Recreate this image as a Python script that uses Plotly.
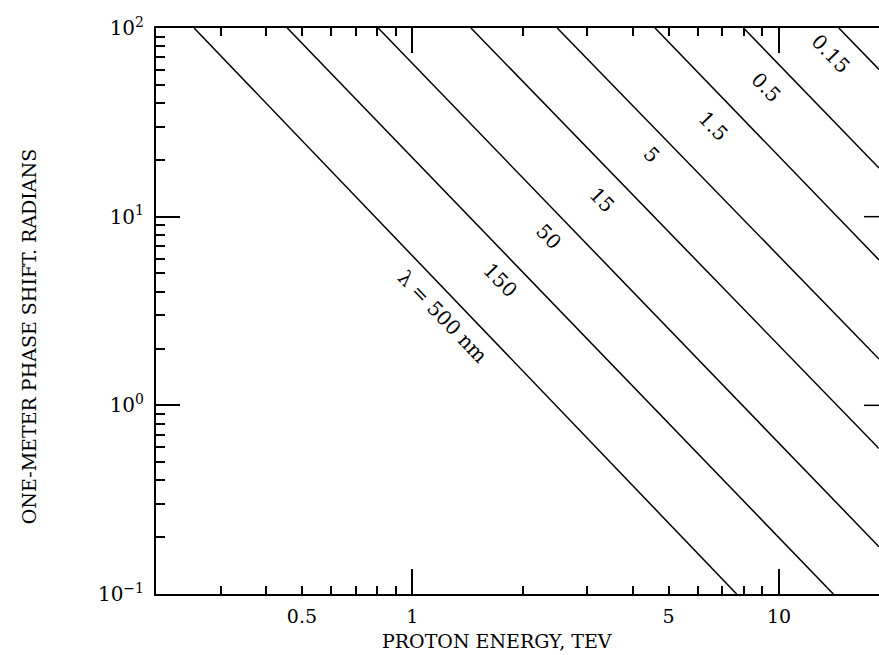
import numpy as np
import plotly.graph_objects as go

# ---- data ----
line_labels = ["λ = 500 nm", "150", "50", "15", "5", "1.5", "0.5", "0.15"]
# start points (top edge, phase = 100 rad)
energy_start = [0.254, 0.456, 0.807, 1.445, 2.483, 4.59, 8.0, 14.55]
phase_start = [100, 100, 100, 100, 100, 100, 100, 100]
# end points (bottom edge or right edge of the frame)
energy_end = [7.66, 14.06, 18.73, 18.73, 18.73, 18.73, 18.73, 18.73]
phase_end = [0.1, 0.1, 0.178, 0.59, 1.76, 5.9, 18.1, 60.3]
# label anchor positions (energy, phase)
label_energy = [1.212, 1.734, 2.344, 3.289, 4.498, 6.60, 9.20, 13.85]
label_phase = [2.93, 4.60, 7.87, 12.19, 21.13, 30.06, 48.4, 72.4]

x_tick_vals = [0.5, 1, 5, 10]
x_tick_text = ["0.5", "1", "5", "10"]
x_minor_vals = [0.3, 0.4, 0.6, 0.7, 0.8, 0.9, 2, 3, 4, 6, 7, 8, 9]
x_major_vals = [1, 10]
y_tick_vals = [0.1, 1, 10, 100]
y_tick_text = ["10<sup>−1</sup>", "10<sup>0</sup>", "10<sup>1</sup>", "10<sup>2</sup>"]
y_minor_vals = [m * d for d in (0.1, 1, 10) for m in range(2, 10)]

x_range = [np.log10(0.2), np.log10(18.73)]
y_range = [-1, 2]

FONT = "DejaVu Serif"

fig = go.Figure()
for xs, ys, xe, ye in zip(energy_start, phase_start, energy_end, phase_end):
    fig.add_trace(go.Scatter(x=[xs, xe], y=[ys, ye], mode="lines",
                             line=dict(color="black", width=1.5),
                             hoverinfo="skip", showlegend=False))
# helper trace so the overlay axis (long ticks) is drawn
fig.add_trace(go.Scatter(x=[1], y=[1], xaxis="x2", mode="markers",
                         marker=dict(opacity=0), hoverinfo="skip", showlegend=False))

for txt, ex, py in zip(line_labels, label_energy, label_phase):
    fig.add_annotation(x=np.log10(ex), y=np.log10(py), text=txt, showarrow=False,
                       textangle=46, font=dict(family=FONT, size=20, color="black"),
                       xanchor="center", yanchor="middle")

# right-side major ticks (frame edge)
for v in [1, 10]:
    fig.add_shape(type="line", xref="paper", yref="y", x0=1 - 15 / 723, x1=1,
                  y0=v, y1=v, line=dict(color="black", width=1.5))

fig.add_annotation(xref="paper", yref="paper", x=0.4716, y=-0.083,
                   text="PROTON ENERGY, TEV", showarrow=False,
                   font=dict(family=FONT, size=19, color="black"),
                   xanchor="center", yanchor="middle")
fig.add_annotation(xref="paper", yref="paper", x=(29 - 156) / 723, y=0.4537,
                   text="ONE-METER PHASE SHIFT. RADIANS", showarrow=False, textangle=-90,
                   font=dict(family=FONT, size=19, color="black"),
                   xanchor="center", yanchor="middle")

fig.update_layout(
    width=879, height=655,
    margin=dict(l=156, r=0, t=28, b=61, pad=0),
    paper_bgcolor="white", plot_bgcolor="white",
    font=dict(family=FONT, size=19, color="black"),
    xaxis=dict(type="log", range=x_range, showgrid=False, zeroline=False,
               showline=True, linecolor="black", linewidth=2, mirror="ticks",
               tickmode="array", tickvals=x_tick_vals, ticktext=x_tick_text,
               ticks="inside", ticklen=8, tickwidth=1.5, tickcolor="black",
               tickfont=dict(family=FONT, size=19), ticklabelstandoff=4,
               minor=dict(tickmode="array", tickvals=x_minor_vals, ticks="inside",
                          ticklen=8, tickwidth=1.5, tickcolor="black", showgrid=False)),
    xaxis2=dict(type="log", range=x_range, overlaying="x", anchor="y", side="bottom",
                showgrid=False, zeroline=False, showline=False, mirror="ticks",
                tickmode="array", tickvals=x_major_vals, showticklabels=False,
                ticks="inside", ticklen=25, tickwidth=1.5, tickcolor="black"),
    yaxis=dict(type="log", range=y_range, showgrid=False, zeroline=False,
               showline=True, linecolor="black", linewidth=2, mirror=False,
               tickmode="array", tickvals=y_tick_vals, ticktext=y_tick_text,
               ticks="inside", ticklen=24, tickwidth=1.5, tickcolor="black",
               tickfont=dict(family=FONT, size=20), ticklabelstandoff=6,
               minor=dict(tickmode="array", tickvals=y_minor_vals, ticks="inside",
                          ticklen=9, tickwidth=1.5, tickcolor="black", showgrid=False)),
)

fig.write_html("out.html")
